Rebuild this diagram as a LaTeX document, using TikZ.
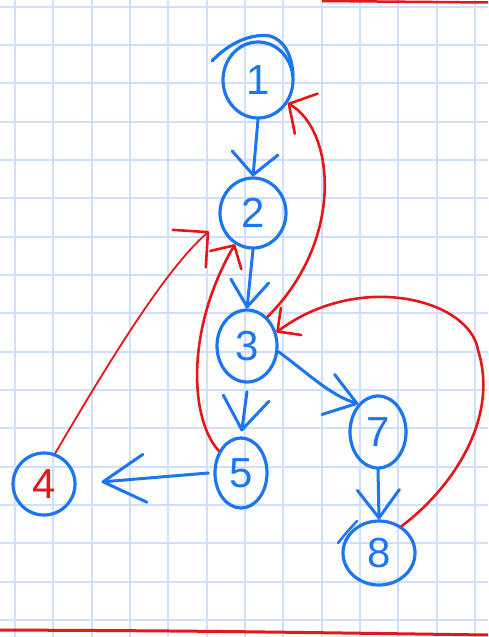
\documentclass[tikz,border=0pt]{standalone}
\usepackage{fontspec}
\setmainfont{Liberation Sans}
\usetikzlibrary{shapes.geometric,arrows.meta}
\definecolor{pen}{RGB}{28,118,240}
\definecolor{redpen}{RGB}{228,24,24}
\definecolor{gridc}{RGB}{206,224,252}
\begin{document}
\begin{tikzpicture}[x=1pt,y=-1pt,
  vert/.style={draw=pen, line width=3.2pt, ellipse, inner sep=0pt, text=pen,
    font=\fontsize{42}{42}\selectfont},
  bluearrow/.style={draw=pen, line width=3pt, line cap=round,
    -{Straight Barb[round,length=22pt,width=46pt]}},
  redarrow/.style={draw=redpen, line width=2.6pt, line cap=round,
    -{Straight Barb[round,length=18pt,width=40pt]}},
  gridline/.style={draw=gridc, line width=2pt},
  stroke/.style={draw=pen, line width=3.2pt, line cap=round}]
\useasboundingbox (0,0) rectangle (488,637);
\fill[white] (0,0) rectangle (488,637);
\foreach \i in {0,...,12} \draw[gridline] ({15+38.33*\i},0) -- ({15+38.33*\i},637);
\foreach \j in {0,...,16} \draw[gridline] (0,{6.7+38.33*\j}) -- (488,{6.7+38.33*\j});
% page edge strokes
\draw[redpen, line width=2.5pt] (322,1) -- (488,2.5);
\draw[redpen, line width=3pt] (0,630) .. controls (200,631) .. (488,635);
% vertices
\node[vert, minimum width=70pt, minimum height=76pt] (n1) at (258,80) {1};
\node[vert, minimum width=66pt, minimum height=70pt] (n2) at (253,213) {2};
\node[vert, minimum width=60pt, minimum height=72pt] (n3) at (247,346) {3};
\node[vert, minimum width=62pt, minimum height=62pt, text=redpen] (n4) at (44,484) {4};
\node[vert, minimum width=52pt, minimum height=70pt] (n5) at (241,473) {5};
\node[vert, minimum width=56pt, minimum height=72pt] (n7) at (378,432) {7};
\node[vert, minimum width=72pt, minimum height=64pt] (n8) at (379,553) {8};
\draw[stroke] (212,61) .. controls (228,44) and (250,33) .. (270,36) .. controls (284,40) and (292,55) .. (293,75);
\draw[stroke, line width=2.5pt] (338,543) .. controls (346,533) .. (357,521);
% tree edges
\draw[bluearrow] (n1.south) -- (n2.north);
\draw[bluearrow, -{Straight Barb[round,length=26pt,width=38pt]}] (n2.south) -- (n3.north);
\draw[bluearrow, shorten >=5pt, -{Straight Barb[round,length=32pt,width=46pt]}] ([yshift=-8pt]n3.south) -- (n5.north);
\draw[bluearrow, shorten >=25pt, -{Straight Barb[round,length=42pt,width=48pt]}] ([xshift=-5pt]n5.west) -- (n4.east);
\draw[bluearrow, -{Straight Barb[round,length=30pt,width=42pt]}] (n3.-10) .. controls (310,375) and (330,395) .. (n7.125);
\draw[bluearrow, -{Straight Barb[round,length=28pt,width=42pt]}] (n7.south) -- (n8.north);
% back edges
\draw[redarrow, -{Straight Barb[round,length=20pt,width=46pt]}] (n3.55) .. controls (345,240) and (335,130) .. (n1.-38);
\draw[redarrow, -{Straight Barb[round,length=17pt,width=36pt]}] (n5.135) .. controls (190,420) and (185,330) .. (n2.-120);
\draw[redarrow, line width=1.8pt, shorten >=14pt, -{Straight Barb[round,line width=2.6pt,length=25pt,width=50pt]}] (n4.70) .. controls (110,360) and (165,270) .. (n2.195);
\draw[redarrow, -{Straight Barb[round,length=17pt,width=34pt]}] (n8.50) .. controls (450,490) and (500,420) .. (478,350) .. controls (470,300) and (360,270) .. (n3.25);
\end{tikzpicture}
\end{document}
